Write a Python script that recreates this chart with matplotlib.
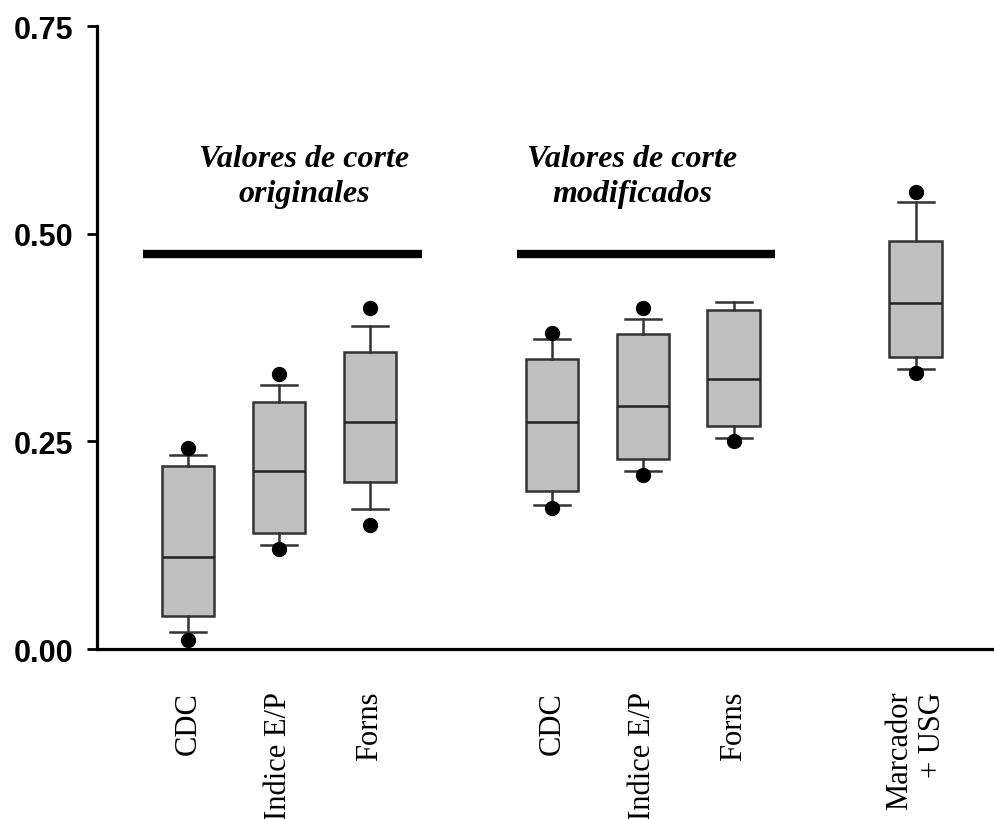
import numpy as np
import matplotlib
matplotlib.use("Agg")
import matplotlib.pyplot as plt

# datos
positions = [1, 2, 3, 5, 6, 7, 9]
labels = ["CDC", "Indice E/P", "Forns", "CDC", "Indice E/P", "Forns", "Marcador\n+ USG"]
q1 = [0.040, 0.140, 0.201, 0.190, 0.229, 0.269, 0.352]
med = [0.111, 0.214, 0.274, 0.274, 0.293, 0.325, 0.417]
q3 = [0.220, 0.298, 0.358, 0.349, 0.379, 0.409, 0.492]
whislo = [0.020, 0.125, 0.169, 0.173, 0.214, 0.254, 0.337]
whishi = [0.234, 0.318, 0.389, 0.374, 0.398, 0.418, 0.539]
fliers = [[0.242, 0.011], [0.331, 0.121], [0.411, 0.149], [0.381, 0.170],
          [0.411, 0.210], [0.250], [0.550, 0.333]]

group_text = ["Valores de corte\noriginales", "Valores de corte\nmodificados"]
group_text_x = [2.28, 5.88]
group_bar = [(0.5, 3.57), (4.62, 7.45)]

fig = plt.figure(figsize=(9.95, 8.2), dpi=100)
ax = fig.add_axes([0.0975, 0.2073, 0.9025, 0.7592])

stats = []
for i in range(len(positions)):
    stats.append(dict(med=med[i], q1=q1[i], q3=q3[i], whislo=whislo[i],
                      whishi=whishi[i], fliers=fliers[i]))

edge = "#333333"
ax.bxp(stats, positions=positions, widths=0.58, patch_artist=True,
       capwidths=0.4, showfliers=True,
       boxprops=dict(facecolor="#c0c0c0", edgecolor=edge, linewidth=1.8),
       medianprops=dict(color="#222222", linewidth=1.8),
       whiskerprops=dict(color=edge, linewidth=1.8),
       capprops=dict(color=edge, linewidth=1.8),
       flierprops=dict(marker="o", markerfacecolor="black", markeredgecolor="black",
                       markersize=10))

# barras de grupo y textos
for (x0, x1) in group_bar:
    ax.plot([x0, x1], [0.476, 0.476], color="black", linewidth=6, solid_capstyle="butt")
for tx, t in zip(group_text_x, group_text):
    ax.text(tx, 0.570, t, ha="center", va="center", multialignment="center",
            fontsize=23, fontweight="bold", fontstyle="italic",
            family="Liberation Serif", linespacing=1.3)

ax.set_xlim(0, 9.87)
ax.set_ylim(0, 0.75)
ax.set_yticks([0, 0.25, 0.5, 0.75])
ax.set_yticklabels(["0.00", "0.25", "0.50", "0.75"], fontsize=22,
                   fontweight="bold", family="Liberation Sans")
ax.set_xticks(positions)
ax.set_xticklabels(labels, rotation=90, fontsize=22, family="Liberation Serif")
for lab in ax.get_xticklabels():
    lab.set_multialignment("right")

ax.tick_params(axis="x", length=0, pad=30)
ax.tick_params(axis="y", length=7, width=2, pad=10, direction="out")
ax.spines["top"].set_visible(False)
ax.spines["right"].set_visible(False)
ax.spines["left"].set_linewidth(2.3)
ax.spines["bottom"].set_linewidth(2.3)

fig.savefig("out.png", dpi=100)
